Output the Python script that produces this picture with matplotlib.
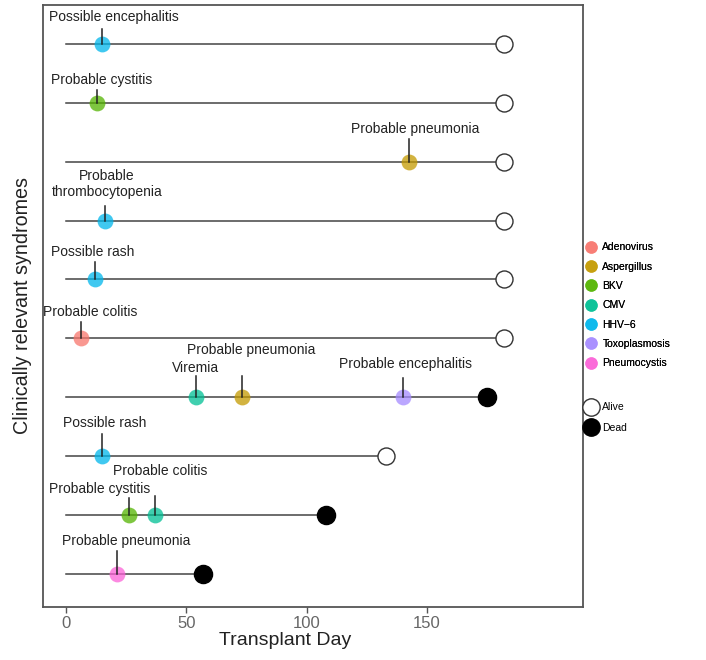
import matplotlib.pyplot as plt
from matplotlib.lines import Line2D

plt.rcParams['font.family'] = ['Liberation Sans', 'DejaVu Sans']

# patient timelines, top row = 10
row_pos = [10, 9, 8, 7, 6, 5, 4, 3, 2, 1]
row_end = [182, 182, 182, 182, 182, 182, 175, 133, 108, 57]
row_status = ["Alive", "Alive", "Alive", "Alive", "Alive", "Alive", "Dead", "Alive", "Dead", "Dead"]

# events along the timelines
event_row = [10, 9, 8, 7, 6, 5, 4, 4, 4, 3, 2, 2, 1]
event_day = [15, 13, 142.5, 16, 12, 6, 54, 73, 140, 15, 26, 37, 21]
event_pathogen = ["HHV-6", "BKV", "Aspergillus", "HHV-6", "HHV-6", "Adenovirus", "CMV",
                  "Aspergillus", "Toxoplasmosis", "HHV-6", "BKV", "CMV", "Pneumocystis"]
event_label = ["Possible encephalitis", "Probable cystitis", "Probable pneumonia",
               "Probable\nthrombocytopenia", "Possible rash", "Probable colitis", "Viremia",
               "Probable pneumonia", "Probable encephalitis", "Possible rash",
               "Probable cystitis", "Probable colitis", "Probable pneumonia"]

pathogens = ["Adenovirus", "Aspergillus", "BKV", "CMV", "HHV\u22126", "Toxoplasmosis", "Pneumocystis"]
pathogen_keys = ["Adenovirus", "Aspergillus", "BKV", "CMV", "HHV-6", "Toxoplasmosis", "Pneumocystis"]
pathogen_colors = ["#F8766D", "#C49A00", "#53B400", "#00C094", "#00B6EB", "#A58AFF", "#FB61D7"]

# label placement (layout only)
label_dx = [5, 1.6, 2.5, 1, -1, 4, 0, 4, 1, 1, -12, 2, 4]
label_dy = [0.46, 0.39, 0.56, 0.62, 0.46, 0.44, 0.49, 0.8, 0.56, 0.56, 0.44, 0.75, 0.56]
tick_top = [0.25, 0.22, 0.39, 0.25, 0.3, 0.27, 0.37, 0.37, 0.32, 0.37, 0.29, 0.32, 0.39]

color_of = dict(zip(pathogen_keys, pathogen_colors))

fig = plt.figure(figsize=(7.06, 6.6), dpi=100)
ax = fig.add_axes([43 / 706, 53 / 660, 540 / 706, 602 / 660])

line_col = "#444444"
for y, end, st in zip(row_pos, row_end, row_status):
    ax.plot([0, end], [y, y], color=line_col, lw=1.1, zorder=1)
    if st == "Alive":
        ax.scatter(end, y, s=150, facecolor="white", edgecolor="#333333", lw=1.0, zorder=3)
    else:
        ax.scatter(end, y, s=170, facecolor="black", edgecolor="black", zorder=3)

for r, d, p, lab, dx, dy, tt in zip(event_row, event_day, event_pathogen, event_label,
                                    label_dx, label_dy, tick_top):
    ax.scatter(d, r, s=130, color=color_of[p], alpha=0.75, lw=0, zorder=3)
    ax.plot([d, d], [r, r + tt], color="#222222", lw=1.1, zorder=4)
    ax.text(d + dx, r + dy, lab, ha="center", va="center", fontsize=10,
            color="#222222", linespacing=1.15)

ax.set_xlim(-9.6, 215)
ax.set_ylim(0.44, 10.66)
ax.set_xticks([0, 50, 100, 150])
ax.tick_params(axis="x", colors="#555555", labelsize=12, length=4, width=1,
               labelcolor="#666666", pad=2.5)
ax.set_yticks([])
for s in ax.spines.values():
    s.set_color("#555555")
    s.set_linewidth(1.3)
ax.set_xlabel("Transplant Day", fontsize=14, color="#222222")
ax.xaxis.set_label_coords((285 - 43) / 540, -0.042)
ax.set_ylabel("Clinically relevant syndromes", fontsize=14.2, color="#222222", labelpad=8)

handles = [Line2D([], [], marker="o", ls="", markersize=9, markerfacecolor=c,
                  markeredgecolor="none", alpha=0.75) for c in pathogen_colors]
leg1 = fig.legend(handles, pathogens, loc="upper left", bbox_to_anchor=(581 / 706, 1 - 238 / 660),
                  frameon=False, fontsize=7.5, handletextpad=0.45, labelspacing=0.9,
                  handlelength=1.2, borderaxespad=0)
status_handles = [Line2D([], [], marker="o", ls="", markersize=12.5, markerfacecolor="white",
                         markeredgecolor="#333333", markeredgewidth=1.0),
                  Line2D([], [], marker="o", ls="", markersize=12.5, markerfacecolor="black",
                         markeredgecolor="black")]
fig.legend(status_handles, ["Alive", "Dead"], loc="upper left",
           bbox_to_anchor=(581 / 706, 1 - 398 / 660), frameon=False, fontsize=7.5,
           handletextpad=0.45, labelspacing=1.05, handlelength=1.2, borderaxespad=0)
fig.add_artist(leg1)

fig.savefig("out.png", dpi=100)
